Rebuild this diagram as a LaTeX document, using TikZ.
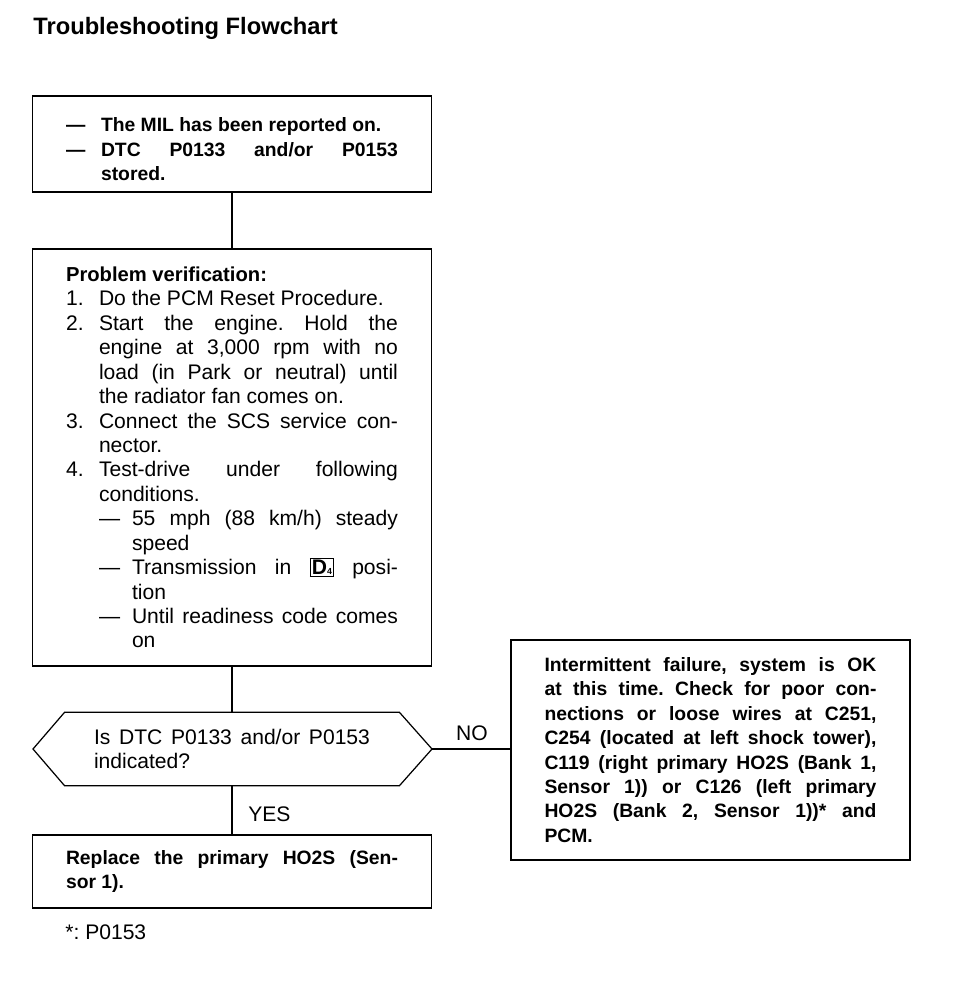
\documentclass[tikz,border=0pt]{standalone}
\usepackage{fontspec}
\setmainfont{Liberation Sans}
\usepackage{tikz}
\tolerance=10000
\hbadness=10000
\frenchspacing
\newcommand{\dashline}{\par\hangindent=0.7cm\hangafter=1\noindent\makebox[0.7cm][l]{—}\ignorespaces}
\newcommand{\numline}[1]{\par\hangindent=0.66cm\hangafter=1\noindent\makebox[0.66cm][l]{#1}\ignorespaces}
\newcommand{\subdash}{\par\hangindent=1.32cm\hangafter=1\noindent\hspace*{0.66cm}\makebox[0.66cm][l]{—}\ignorespaces}
\newcommand{\Dfour}{{\setlength{\fboxsep}{0.6pt}\setlength{\fboxrule}{0.5pt}\fbox{\textbf{D}{\tiny\textbf{4}}}}}

\begin{document}
\begin{tikzpicture}[x=0.02cm,y=-0.02cm, every node/.style={font=\fontsize{12}{13.9}\selectfont},
	flowbox/.style={draw, line width=0.7pt, minimum width=7.98cm, text width=6.64cm, inner xsep=0.67cm, align=justify},
	boldtext/.style={font=\fontsize{11}{13.9}\selectfont\bfseries},
	link/.style={line width=0.6pt}]
	\useasboundingbox (0,0) rectangle (960,988);

	\node[anchor=west, inner sep=0pt, font=\fontsize{13.5}{16}\selectfont\bfseries] (title) at (33,28) {Troubleshooting Flowchart};

	\node[flowbox, boldtext, minimum height=1.92cm] (mil) at (232,144) {%
		\dashline The MIL has been reported on.
		\dashline DTC P0133 and/or P0153\linebreak stored.\par};

	\node[flowbox, minimum height=8.34cm] (verify) at (232,457.5) {%
		\noindent{\fontsize{11.5}{13.9}\selectfont\bfseries Problem verification:}
		\numline{1.} Do the PCM Reset Procedure.
		\numline{2.} Start the engine. Hold the\linebreak engine at 3,000 rpm with no\linebreak load (in Park or neutral) until\linebreak the radiator fan comes on.
		\numline{3.} Connect the SCS service con-\linebreak nector.
		\numline{4.} Test-drive under following\linebreak conditions.
		\subdash 55 mph (88 km/h) steady\linebreak speed
		\subdash Transmission in \Dfour{} posi-\linebreak tion
		\subdash Until readiness code comes\linebreak on\par};

	\node[minimum width=6.68cm, minimum height=1.46cm, text width=5.52cm, inner xsep=0.58cm, align=justify] (ask) at (232,749) {%
		Is DTC P0133 and/or P0153\linebreak indicated?\par};
	\coordinate (askL) at (33,749);
	\coordinate (askR) at (432,749);
	\draw[line width=0.7pt] (ask.north west) -- (ask.north east) -- (askR) -- (ask.south east) -- (ask.south west) -- (askL) -- cycle;

	\node[flowbox, boldtext, minimum height=1.46cm] (swap) at (232,871.5) {%
		Replace the primary HO2S (Sen-\linebreak sor 1).\par};

	\node[flowbox, boldtext, minimum height=4.4cm] (fail) at (710.5,750) {%
		Intermittent failure, system is OK\linebreak at this time. Check for poor con-\linebreak nections or loose wires at C251,\linebreak C254 (located at left shock tower),\linebreak C119 (right primary HO2S (Bank 1,\linebreak Sensor 1)) or C126 (left primary\linebreak HO2S (Bank 2, Sensor 1))* and\linebreak PCM.\par};

	\draw[link] (mil) -- (verify);
	\draw[link] (verify) -- (ask);
	\draw[link] (ask) -- (swap);
	\draw[link] (askR) -- (askR -| fail.west);

	\node[inner sep=0pt] (no) at (472,733) {NO};
	\node[anchor=west, inner sep=0pt] (yes) at (248,814) {YES};
	\node[anchor=west, inner sep=0pt] (note) at (65,932) {*: P0153};
\end{tikzpicture}
\end{document}
